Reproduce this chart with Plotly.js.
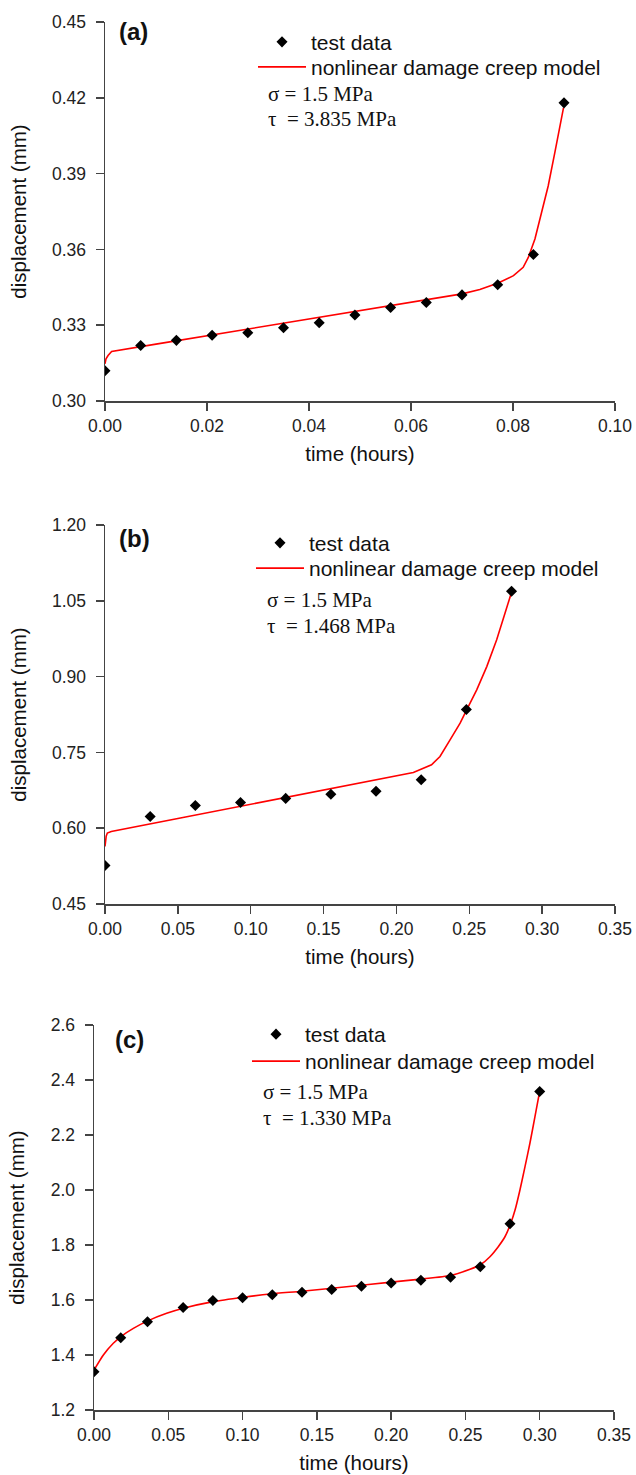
<!DOCTYPE html>
<html>
<head>
<meta charset="utf-8">
<script src="https://cdn.plot.ly/plotly-3.0.1.min.js"></script>
<style>html,body{margin:0;padding:0;background:#fff;}#chart{width:636px;height:1475px;}</style>
</head>
<body>
<div id="chart"></div>
<script>
// ---- Panel (a) data ----
const timeA = [0, 0.007, 0.014, 0.021, 0.028, 0.035, 0.042, 0.049, 0.056, 0.063, 0.070, 0.077, 0.084, 0.090];
const testA = [0.312, 0.322, 0.324, 0.326, 0.327, 0.329, 0.331, 0.334, 0.337, 0.339, 0.342, 0.346, 0.358, 0.418];
const modelTimeA = [0, 0.0002, 0.0006, 0.0013, 0.01, 0.02, 0.03, 0.04, 0.05, 0.06, 0.07, 0.0735, 0.0771, 0.0801, 0.082, 0.083, 0.0843, 0.0856, 0.0869, 0.0882, 0.0892, 0.0899];
const modelA = [0.3147, 0.3167, 0.3180, 0.3196, 0.3225, 0.3258, 0.3291, 0.3324, 0.3357, 0.3390, 0.3424, 0.3441, 0.3467, 0.3496, 0.3529, 0.3568, 0.3641, 0.3746, 0.3851, 0.3983, 0.4088, 0.4160];

// ---- Panel (b) data ----
const timeB = [0, 0.031, 0.062, 0.093, 0.124, 0.155, 0.186, 0.217, 0.248, 0.279];
const testB = [0.526, 0.623, 0.645, 0.651, 0.659, 0.667, 0.673, 0.696, 0.835, 1.069];
const modelTimeB = [0, 0.0004, 0.0008, 0.0016, 0.0043, 0.05, 0.10, 0.15, 0.2025, 0.2116, 0.2241, 0.2299, 0.2368, 0.2437, 0.2482, 0.2551, 0.2620, 0.2688, 0.2745, 0.2791];
const modelB = [0.564, 0.577, 0.584, 0.5904, 0.5936, 0.6192, 0.6473, 0.6753, 0.7037, 0.7102, 0.7255, 0.7419, 0.7749, 0.8079, 0.8342, 0.8738, 0.9198, 0.9727, 1.0254, 1.0681];

// ---- Panel (c) data ----
const timeC = [0, 0.018, 0.036, 0.06, 0.08, 0.10, 0.12, 0.14, 0.16, 0.18, 0.20, 0.22, 0.24, 0.26, 0.28, 0.30];
const testC = [1.339, 1.463, 1.521, 1.573, 1.598, 1.608, 1.619, 1.628, 1.638, 1.650, 1.662, 1.672, 1.683, 1.721, 1.877, 2.358];
const modelTimeC = [0, 0.0063, 0.013, 0.0186, 0.0265, 0.0366, 0.0489, 0.0601, 0.0803, 0.1005, 0.1185, 0.14, 0.17, 0.20, 0.22, 0.24, 0.2531, 0.2605, 0.2665, 0.2721, 0.2766, 0.2805, 0.2834, 0.2867, 0.2901, 0.2934, 0.2968, 0.2995];
const modelC = [1.345, 1.400, 1.4425, 1.469, 1.497, 1.525, 1.5515, 1.570, 1.594, 1.610, 1.622, 1.632, 1.648, 1.665, 1.676, 1.689, 1.7116, 1.730, 1.7575, 1.794, 1.830, 1.879, 1.927, 2.0, 2.085, 2.170, 2.2667, 2.345];

// ---- Text ----
const panelLabels = ['(a)', '(b)', '(c)'];
const sigmaText = ['\u03c3 = 1.5 MPa', '\u03c3 = 1.5 MPa', '\u03c3 = 1.5 MPa'];
const tauText = ['\u03c4\u00a0\u00a0= 3.835 MPa', '\u03c4\u00a0\u00a0= 1.468 MPa', '\u03c4\u00a0\u00a0= 1.330 MPa'];
const dataName = 'test data';
const modelName = 'nonlinear damage creep model';
const xTitle = 'time (hours)';
const yTitle = 'displacement (mm)';

const W = 636, H = 1475;
const px = v => v / W;
const py = v => 1 - v / H;
const SANS = 'Liberation Sans, Arial, sans-serif';
const SERIF = 'Liberation Serif, Times New Roman, serif';
const AX = '#444';

function mkTraces(tm, tv, mt, mv, xa, ya, lgData, lgModel, smooth) {
  return [
    {x: mt, y: mv, mode: 'lines', name: modelName, xaxis: xa, yaxis: ya, legend: lgModel,
     line: {color: '#ff0000', width: 1.6, shape: smooth ? 'spline' : 'linear', smoothing: 0.6}, hoverinfo: 'skip'},
    {x: tm, y: tv, mode: 'markers', name: dataName, xaxis: xa, yaxis: ya, legend: lgData,
     marker: {symbol: 'diamond', size: 8.5, color: '#000'}}
  ];
}

const data = [].concat(
  mkTraces(timeA, testA, modelTimeA, modelA, 'x', 'y', 'legend', 'legend2', false),
  mkTraces(timeB, testB, modelTimeB, modelB, 'x2', 'y2', 'legend3', 'legend4', false),
  mkTraces(timeC, testC, modelTimeC, modelC, 'x3', 'y3', 'legend5', 'legend6', true)
);

function xax(dom, range, dtick, fmt, anchor) {
  return {domain: dom, range: range, dtick: dtick, tick0: 0, tickformat: fmt, anchor: anchor,
    ticks: 'outside', ticklen: 8, tickwidth: 1.5, tickcolor: AX, showline: true, linecolor: AX, linewidth: 1.5,
    showgrid: false, zeroline: false, tickfont: {family: SANS, size: 17.5, color: '#222'},
    title: {text: xTitle, font: {family: SANS, size: 20.5, color: '#111'}, standoff: 12}};
}
function yax(dom, range, dtick, fmt, anchor) {
  return {domain: dom, range: range, dtick: dtick, tick0: 0, tickformat: fmt, anchor: anchor,
    ticks: 'outside', ticklen: 8, tickwidth: 1.5, tickcolor: AX, showline: true, linecolor: AX, linewidth: 1.5,
    ticklabelstandoff: 6,
    showgrid: false, zeroline: false, tickfont: {family: SANS, size: 17.5, color: '#222'},
    title: {text: yTitle, font: {family: SANS, size: 20.5, color: '#111'}, standoff: 20}};
}

function legendAt(xl, yCenter) {
  return {x: px(xl), y: py(yCenter - 20), xanchor: 'left', yanchor: 'top', bgcolor: 'rgba(0,0,0,0)',
    borderwidth: 0, itemwidth: 48, font: {family: SANS, size: 21, color: '#111'}};
}

const annotations = [];
const labelPos = [[117, 32], [117, 538], [113, 1039]];
const sigPos = [[266, 94, 119], [265, 600, 626], [261, 1092, 1118]];
for (let i = 0; i < 3; i++) {
  annotations.push({xref: 'paper', yref: 'paper', x: px(labelPos[i][0]), y: py(labelPos[i][1]), xanchor: 'left', yanchor: 'middle',
    text: '<b>' + panelLabels[i] + '</b>', showarrow: false, font: {family: SANS, size: 24, color: '#111'}});
  annotations.push({xref: 'paper', yref: 'paper', x: px(sigPos[i][0]), y: py(sigPos[i][1]), xanchor: 'left', yanchor: 'middle',
    text: sigmaText[i], showarrow: false, font: {family: SERIF, size: 21, color: '#111'}});
  annotations.push({xref: 'paper', yref: 'paper', x: px(sigPos[i][0]), y: py(sigPos[i][2]), xanchor: 'left', yanchor: 'middle',
    text: tauText[i], showarrow: false, font: {family: SERIF, size: 21, color: '#111'}});
}

const layout = {
  width: W, height: H, margin: {l: 0, r: 0, t: 0, b: 0}, paper_bgcolor: '#fff', plot_bgcolor: '#fff',
  showlegend: true,
  xaxis: xax([px(105), px(615)], [0, 0.10], 0.02, '.2f', 'y'),
  yaxis: yax([py(401), py(22)], [0.30, 0.45], 0.03, '.2f', 'x'),
  xaxis2: xax([px(105), px(615)], [0, 0.35], 0.05, '.2f', 'y2'),
  yaxis2: yax([py(904), py(525)], [0.45, 1.20], 0.15, '.2f', 'x2'),
  xaxis3: xax([px(94), px(614)], [0, 0.35], 0.05, '.2f', 'y3'),
  yaxis3: yax([py(1410), py(1025)], [1.2, 2.6], 0.2, '.1f', 'x3'),
  legend: legendAt(253, 41.7),
  legend2: legendAt(253, 66.7),
  legend3: legendAt(251, 542.7),
  legend4: legendAt(251, 568),
  legend5: legendAt(247, 1034),
  legend6: legendAt(247, 1061),
  annotations: annotations
};

Plotly.newPlot('chart', data, layout, {displayModeBar: false, staticPlot: true});
</script>
</body>
</html>
